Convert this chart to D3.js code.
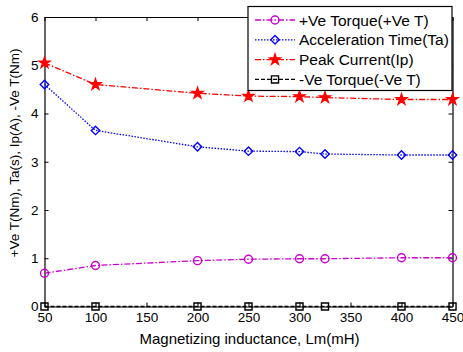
<!DOCTYPE html>
<html>
<head>
<meta charset="utf-8">
<script src="https://cdn.jsdelivr.net/npm/d3@7"></script>
<style>
  body { margin: 0; background: #fff; }
  text { font-family: "Liberation Sans", Arial, sans-serif; }
</style>
</head>
<body>
<div id="chart"></div>
<script>
const inductance = [50, 100, 200, 250, 300, 325, 400, 450];
const posTorque = [0.69, 0.85, 0.95, 0.98, 0.99, 0.99, 1.01, 1.01];
const accelTime = [4.6, 3.65, 3.31, 3.22, 3.21, 3.16, 3.14, 3.14];
const peakCurrent = [5.05, 4.6, 4.42, 4.36, 4.35, 4.33, 4.29, 4.29];
const negTorque = [0, 0, 0, 0, 0, 0, 0, 0];
const xTicks = [50, 100, 150, 200, 250, 300, 350, 400, 450];
const yTicks = [0, 1, 2, 3, 4, 5, 6];

const series = [
  { name: '+Ve Torque(+Ve T)', values: posTorque, color: '#cc00cc', dash: '6,2,1.5,2', marker: 'circle' },
  { name: 'Acceleration Time(Ta)', values: accelTime, color: '#0000ff', dash: '1.5,1.5', marker: 'diamond' },
  { name: 'Peak Current(Ip)', values: peakCurrent, color: '#ff0000', dash: '6,2,1.5,2', marker: 'star' },
  { name: '-Ve Torque(-Ve T)', values: negTorque, color: '#000000', dash: '4,2', marker: 'square' }
];

const W = 463, H = 352;
const margin = { top: 17, right: 10.5, bottom: 45.5, left: 44.5 };
const width = W - margin.left - margin.right;
const height = H - margin.top - margin.bottom;

const svg = d3.select('#chart').append('svg')
  .attr('width', W).attr('height', H);
const g = svg.append('g')
  .attr('transform', `translate(${margin.left},${margin.top})`);

const x = d3.scaleLinear().domain([50, 450]).range([0, width]);
const y = d3.scaleLinear().domain([0, 6]).range([height, 0]);
const fmt = d3.format('d');

// axes, MATLAB style: ticks inside, box around
g.append('g').attr('transform', `translate(0,${height})`)
  .call(d3.axisBottom(x).tickValues(xTicks).tickFormat(fmt).tickSizeInner(-4).tickSizeOuter(0).tickPadding(6));
g.append('g').call(d3.axisTop(x).tickValues(xTicks).tickSizeInner(-4).tickSizeOuter(0).tickFormat(''));
g.append('g')
  .call(d3.axisLeft(y).tickValues(yTicks).tickFormat(fmt).tickSizeInner(-4).tickSizeOuter(0).tickPadding(6));
g.append('g').attr('transform', `translate(${width},0)`)
  .call(d3.axisRight(y).tickValues(yTicks).tickSizeInner(-4).tickSizeOuter(0).tickFormat(''));

g.selectAll('.domain').attr('stroke', '#000').attr('stroke-width', 1.2);
g.selectAll('.tick line').attr('stroke', '#000');
g.selectAll('.tick text').attr('font-size', 13.5).attr('fill', '#000')
  .attr('font-family', '"Liberation Sans", Arial, sans-serif');

// axis labels
svg.append('text')
  .attr('x', margin.left + width / 2 + 1).attr('y', 344)
  .attr('text-anchor', 'middle').attr('font-size', 15)
  .text('Magnetizing inductance, Lm(mH)');
svg.append('text')
  .attr('transform', 'translate(19,153) rotate(-90)')
  .attr('text-anchor', 'middle').attr('font-size', 13.5)
  .text('+Ve T(Nm), Ta(s), Ip(A), -Ve T(Nm)');

const symbols = {
  circle: d3.symbol().type(d3.symbolCircle).size(50),
  diamond: d3.symbol().type(d3.symbolSquare).size(36),
  star: d3.symbol().type(d3.symbolStar).size(36),
  square: d3.symbol().type(d3.symbolSquare).size(50)
};

function drawMarker(sel, s) {
  sel.append('path')
    .attr('d', symbols[s.marker]())
    .attr('transform', s.marker === 'diamond' ? 'rotate(45)' : null)
    .attr('fill', s.marker === 'star' ? s.color : 'none')
    .attr('stroke', s.color)
    .attr('stroke-width', 1.4);
}

const line = d3.line().x(d => x(d[0])).y(d => y(d[1]));

series.forEach(s => {
  const pts = inductance.map((v, i) => [v, s.values[i]]);
  g.append('path')
    .datum(pts)
    .attr('d', line)
    .attr('fill', 'none')
    .attr('stroke', s.color)
    .attr('stroke-width', 1.3)
    .attr('stroke-dasharray', s.dash);
  g.selectAll(null).data(pts).enter().append('g')
    .attr('transform', d => `translate(${x(d[0])},${y(d[1])})`)
    .each(function () { drawMarker(d3.select(this), s); });
});

// legend
const legend = svg.append('g').attr('transform', 'translate(248,6.5)');
legend.append('rect')
  .attr('width', 204).attr('height', 84)
  .attr('fill', '#fff').attr('stroke', '#000').attr('stroke-width', 1.2);
series.forEach((s, i) => {
  const row = legend.append('g').attr('transform', `translate(0,${13.5 + i * 19.8})`);
  row.append('line')
    .attr('x1', 7).attr('x2', 47)
    .attr('stroke', s.color).attr('stroke-width', 1.3)
    .attr('stroke-dasharray', s.dash);
  const m = row.append('g').attr('transform', 'translate(27,0)');
  drawMarker(m, s);
  row.append('text')
    .attr('x', 51).attr('y', 5.5)
    .attr('font-size', 15.5)
    .text(s.name);
});
</script>
</body>
</html>
